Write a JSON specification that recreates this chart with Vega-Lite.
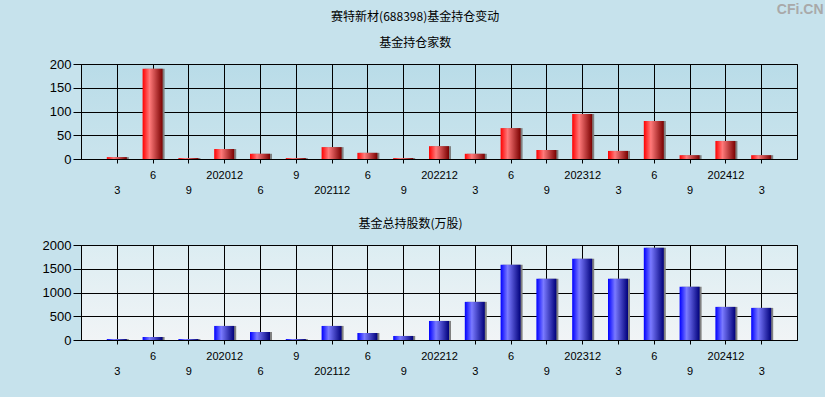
{
  "$schema": "https://vega.github.io/schema/vega-lite/v6.json",
  "background": "#c6e2ec",
  "padding": {"left": 41, "top": 2, "right": 3, "bottom": 20},
  "title": {"text": "CFi.CN", "anchor": "end", "frame": "bounds", "dx": 26, "offset": -6, "fontSize": 14, "fontWeight": "bold", "font": "Liberation Sans", "color": "#a9a9a9"},
  "datasets": {
    "d": [
      {"q": "202003", "n": 4, "s": 20},
      {"q": "202006", "n": 190, "s": 63},
      {"q": "202009", "n": 2, "s": 20},
      {"q": "202012", "n": 21, "s": 296},
      {"q": "202106", "n": 11, "s": 169},
      {"q": "202109", "n": 2, "s": 20},
      {"q": "202112", "n": 25, "s": 296},
      {"q": "202206", "n": 13, "s": 148},
      {"q": "202209", "n": 2, "s": 85},
      {"q": "202212", "n": 27, "s": 401},
      {"q": "202303", "n": 11, "s": 803},
      {"q": "202306", "n": 65, "s": 1585},
      {"q": "202309", "n": 19, "s": 1289},
      {"q": "202312", "n": 95, "s": 1711},
      {"q": "202403", "n": 17, "s": 1289},
      {"q": "202406", "n": 80, "s": 1944},
      {"q": "202409", "n": 8, "s": 1120},
      {"q": "202412", "n": 38, "s": 697},
      {"q": "202503", "n": 8, "s": 676}
    ]
  },
  "spacing": 21,
  "vconcat": [
    {
      "width": 716,
      "height": 95,
      "data": {"name": "d"},
      "title": {"text": "赛特新材(688398)基金持仓变动", "subtitle": "基金持仓家数", "anchor": "middle", "frame": "bounds", "dx": -8, "fontSize": 12, "fontWeight": "normal", "font": "Noto Sans CJK SC", "color": "black", "subtitleFont": "Noto Sans CJK SC", "subtitleFontSize": 12, "subtitleColor": "black", "subtitlePadding": 14, "offset": 8},
      "view": {"fill": {"gradient": "linear", "x1": 0, "y1": 0, "x2": 0, "y2": 1, "stops": [{"offset": 0, "color": "#b9dce8"}, {"offset": 1, "color": "#cae4ed"}]}, "stroke": "black"},
      "encoding": {
        "x": {"field": "q", "type": "ordinal", "sort": null, "scale": {"type": "point", "padding": 1},
          "axis": {"title": null, "labelExpr": "indexof(['202003','202009','202106','202112','202209','202303','202309','202403','202409','202503'], datum.value) >= 0 ? ['', (substring(datum.value,4,6) == '12' ? datum.value : toString(toNumber(substring(datum.value,4,6))))] : (substring(datum.value,4,6) == '12' ? datum.value : toString(toNumber(substring(datum.value,4,6))))"}},
        "y": {"field": "n", "type": "quantitative", "scale": {"domain": [0, 200], "nice": false}, "axis": {"title": null, "values": [0, 50, 100, 150, 200], "format": "d"}}
      },
      "layer": [
        {"mark": {"type": "bar", "size": 20, "xOffset": 2, "color": "#808080"}},
        {"mark": {"type": "bar", "size": 20, "color": {"gradient": "linear", "x1": 0, "x2": 1, "y1": 0, "y2": 0, "stops": [{"offset": 0, "color": "#ff0000"}, {"offset": 0.35, "color": "#ff7a7a"}, {"offset": 1, "color": "#7a0000"}]}}}
      ]
    },
    {
      "width": 716,
      "height": 95,
      "data": {"name": "d"},
      "title": {"text": "基金总持股数(万股)", "anchor": "middle", "frame": "bounds", "dx": -9, "fontSize": 12, "fontWeight": "normal", "font": "Noto Sans CJK SC", "color": "black", "offset": 8},
      "view": {"fill": {"gradient": "linear", "x1": 0, "y1": 0, "x2": 0, "y2": 1, "stops": [{"offset": 0, "color": "#dcedf2"}, {"offset": 1, "color": "#f1f4f6"}]}, "stroke": "black"},
      "encoding": {
        "x": {"field": "q", "type": "ordinal", "sort": null, "scale": {"type": "point", "padding": 1},
          "axis": {"title": null, "labelExpr": "indexof(['202003','202009','202106','202112','202209','202303','202309','202403','202409','202503'], datum.value) >= 0 ? ['', (substring(datum.value,4,6) == '12' ? datum.value : toString(toNumber(substring(datum.value,4,6))))] : (substring(datum.value,4,6) == '12' ? datum.value : toString(toNumber(substring(datum.value,4,6))))"}},
        "y": {"field": "s", "type": "quantitative", "scale": {"domain": [0, 2000], "nice": false}, "axis": {"title": null, "values": [0, 500, 1000, 1500, 2000], "format": "d"}}
      },
      "layer": [
        {"mark": {"type": "bar", "size": 20, "xOffset": 2, "color": "#808080"}},
        {"mark": {"type": "bar", "size": 20, "color": {"gradient": "linear", "x1": 0, "x2": 1, "y1": 0, "y2": 0, "stops": [{"offset": 0, "color": "#0000ff"}, {"offset": 0.35, "color": "#7a7aff"}, {"offset": 1, "color": "#00007a"}]}}}
      ]
    }
  ],
  "config": {
    "axis": {"grid": true, "gridColor": "black", "gridOpacity": 1, "gridWidth": 1, "domainColor": "black", "domainWidth": 1, "tickColor": "black", "labelColor": "black", "labelFont": "Liberation Sans"},
    "axisX": {"labelFontSize": 11, "tickSize": 4, "labelPadding": 6, "labelLineHeight": 15, "labelAngle": 0, "labelOverlap": false, "labelBound": false, "labelFlush": false},
    "axisY": {"labelFontSize": 13, "tickSize": 8, "labelPadding": 2}
  }
}
